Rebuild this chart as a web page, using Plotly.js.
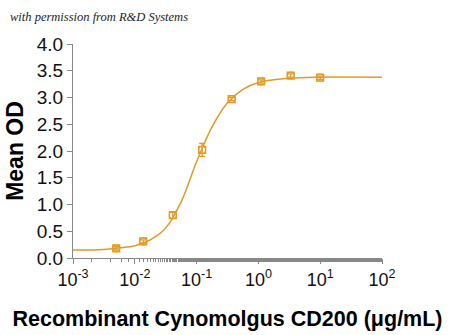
<!DOCTYPE html>
<html>
<head>
<meta charset="utf-8">
<script src="https://cdn.plot.ly/plotly-3.0.1.min.js"></script>
<style>html,body{margin:0;padding:0;background:#fff;}#chart{width:450px;height:335px;}</style>
</head>
<body>
<div id="chart"></div>
<script>
// measured points
const concentration = [0.005, 0.0137, 0.0412, 0.123, 0.37, 1.11, 3.33, 10];
const meanOD = [0.18, 0.31, 0.80, 2.02, 2.97, 3.30, 3.41, 3.37];
const errOD = [0.03, 0.03, 0.06, 0.12, 0.03, 0.03, 0.03, 0.03];
// fitted curve
const curveX = [0.001, 0.00316, 0.00562, 0.01, 0.0178, 0.0316, 0.0562, 0.1, 0.178, 0.316, 0.562, 1, 3.16, 10, 100];
const curveY = [0.15, 0.16, 0.19, 0.23, 0.34, 0.56, 1.05, 1.80, 2.45, 2.90, 3.15, 3.28, 3.36, 3.38, 3.38];
const xTickVals = [0.001, 0.01, 0.1, 1, 10, 100];
const xTickText = ['10<sup>-3</sup>', '10<sup>-2</sup>', '10<sup>-1</sup>', '10<sup>0</sup>', '10<sup>1</sup>', '10<sup>2</sup>'];

const col = '#E39B25';
const traces = [
  {x: curveX, y: curveY, mode: 'lines', line: {color: col, width: 1.5, shape: 'spline', smoothing: 1}, hoverinfo: 'skip'},
  {x: concentration, y: meanOD, mode: 'markers', marker: {symbol: 'square-open', size: 7, color: col, line: {width: 1.2, color: col}}},
  {x: concentration, y: meanOD, mode: 'markers', marker: {symbol: 'circle-open', size: 7, color: col, line: {width: 1.2, color: col}},
   error_y: {type: 'data', array: errOD, visible: true, color: col, thickness: 1.3, width: 3}}
];
const layout = {
  width: 450, height: 335,
  margin: {l: 73, r: 68, t: 44, b: 77},
  paper_bgcolor: '#fff', plot_bgcolor: '#fff',
  showlegend: false,
  font: {family: 'Liberation Sans, Arial, sans-serif', color: '#111'},
  xaxis: {
    type: 'log', range: [-3, 2],
    tickvals: xTickVals, ticktext: xTickText,
    ticks: 'outside', ticklen: 5, tickcolor: '#888', tickwidth: 1,
    showline: true, linecolor: '#888', linewidth: 1,
    showgrid: false, zeroline: false,
    tickfont: {size: 18, color: '#111'},
    minor: {ticks: 'outside', ticklen: 3, tickcolor: '#888', showgrid: false},
    title: {text: '<b>Recombinant Cynomolgus CD200 (μg/mL)</b>', font: {size: 21.5, color: '#000'}, standoff: 22}
  },
  yaxis: {
    range: [0, 4], dtick: 0.5, tickformat: '.1f',
    ticks: 'outside', ticklen: 5, tickcolor: '#888', tickwidth: 1,
    showline: true, linecolor: '#888', linewidth: 1,
    showgrid: false, zeroline: false,
    tickfont: {size: 19, color: '#111'},
    title: {text: '<b>Mean OD</b>', font: {size: 23, color: '#000'}, standoff: 6}
  },
  annotations: [{
    text: 'with permission from R&D Systems', xref: 'paper', yref: 'paper',
    x: -65/309, y: 1 + 27/214, xanchor: 'left', yanchor: 'middle', showarrow: false,
    font: {family: 'Liberation Serif, serif', size: 12.5, color: '#222', style: 'italic'}
  }]
};
Plotly.newPlot('chart', traces, layout, {staticPlot: true});
</script>
</body>
</html>
